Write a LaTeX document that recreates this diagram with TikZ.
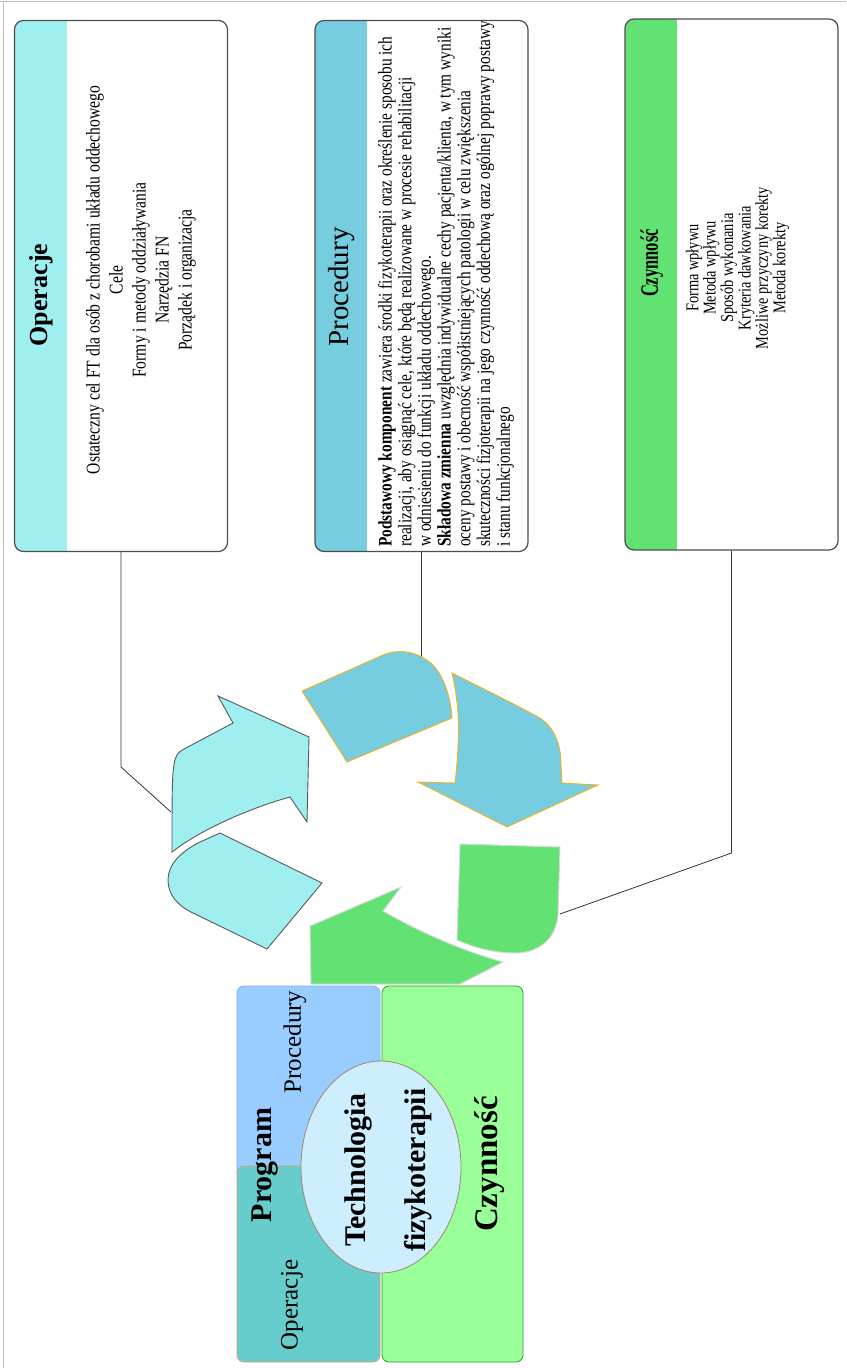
\documentclass[tikz,border=0pt]{standalone}
\usepackage{graphicx}
\usepackage{fontspec}
\setmainfont{Liberation Serif}
\newfontfamily\narrowserif[FakeStretch=0.8]{Liberation Serif}
\usetikzlibrary{shapes.geometric}

\definecolor{opcyan}{HTML}{9FEFF0}
\definecolor{prblue}{HTML}{76CDDF}
\definecolor{czgreen}{HTML}{62E272}
\definecolor{edgeorange}{HTML}{F5B21B}
\definecolor{progblue}{HTML}{99CCFF}
\definecolor{progedge}{HTML}{7FB2F0}
\definecolor{opteal}{HTML}{66CCCC}
\definecolor{opedge}{HTML}{D9A066}
\definecolor{czlight}{HTML}{99FF99}
\definecolor{czedge}{HTML}{2E9E2E}
\definecolor{ellfill}{HTML}{CCEEFF}
\definecolor{elledge}{HTML}{A08868}
\definecolor{boxline}{HTML}{4D4D4D}

\tikzset{
  infobox/.style={draw=boxline, line width=1.2pt, rounded corners=9pt, minimum width=213pt, minimum height=531pt, inner sep=0pt,
    path picture={\fill[#1, sharp corners] (path picture bounding box.north west) rectangle ([xshift=52pt]path picture bounding box.south west);}},
  uptext/.style={rotate=90, inner sep=0pt, align=center},
  conn/.style={draw=black!80, line width=0.8pt},
  cyanpiece/.style={fill=opcyan, draw=black!65, line width=0.9pt},
  bluepiece/.style={fill=prblue, draw=edgeorange, line width=0.9pt},
  greenpiece/.style={fill=czgreen, draw=black!15, line width=1pt},
  venn/.style={rounded corners=7pt, minimum width=143pt, inner sep=0pt, line width=0.8pt},
}

\begin{document}
\begin{tikzpicture}[x=1pt,y=1pt,yscale=-1,xscale=1]
\useasboundingbox (0,0) rectangle (846,1368);
%frame
\draw[black!25] (0,1) -- (846,1) (3,1) -- (3,1368);

%Shape: top boxes
\node[infobox=opcyan] (opbox) at (121,286) {};
\node[infobox=prblue] (prbox) at (421.5,286) {};
\node[infobox=czgreen] (czbox) at (731.5,284.5) {};

% Text Node
\node[uptext, font=\fontsize{26}{30}\selectfont\bfseries] (optitle) at (41,295) {Operacje};
% Text Node
\node[uptext, font=\fontsize{29}{32}\selectfont] (prtitle) at (342,287) {Procedury};
% Text Node
\node[uptext, font=\fontsize{25}{30}\selectfont\bfseries] (cztitle) at (652,263) {\scalebox{0.66}[1]{Czynność}};
% Text Node
\node[uptext, font=\narrowserif\fontsize{19.5}{23}\selectfont] (optext) at (141,280) {Ostateczny cel FT dla osób z chorobami układu oddechowego\\Cele\\Formy i metody oddziaływania\\Narzędzia FN\\Porządek i organizacja};
% Text Node
\node[uptext, align=left, anchor=west, font=\narrowserif\fontsize{19.2}{19.7}\selectfont] (prtext) at (446,547) {\textbf{Podstawowy komponent} zawiera środki fizykoterapii oraz określenie sposobu ich\\realizacji, aby osiągnąć cele, które będą realizowane w procesie rehabilitacji\\ w odniesieniu do funkcji układu oddechowego.\\\textbf{Składowa zmienna} uwzględnia indywidualne cechy pacjenta/klienta, w tym wyniki\\oceny postawy i obecność współistniejących patologii w celu zwiększenia\\skuteczności fizjoterapii na jego czynność oddechową oraz ogólnej poprawy postawy\\i stanu funkcjonalnego};
% Text Node
\node[uptext, font=\narrowserif\fontsize{18}{15}\selectfont] (cztext) at (737.5,268) {Forma wpływu\\Metoda wpływu\\Sposób wykonania\\Kryteria dawkowania\\Możliwe przyczyny korekty\\Metoda korekty};

%Straight Lines
\coordinate (opbend) at (121,767);
\coordinate (opend) at (171,812);
\coordinate (prend) at (421.5,658);
\coordinate (czbend) at (731.5,853);
\coordinate (czend) at (560,914);
\draw[conn] (opbox.south) -- (opbend) -- (opend);
\draw[conn] (prbox.south) -- (prend);
\draw[conn] (czbox.south) -- (czbend) -- (czend);

%Shape: cycle arrows
\draw[cyanpiece] (172,852) .. controls (172,800) and (172,775) .. (174,765) .. controls (175,756) and (178,752) .. (184,749) -- (233,723) -- (218,696) -- (309,737) -- (307,822) -- (290,797) .. controls (250,808) and (200,830) .. cycle;
\draw[cyanpiece] (220,833) -- (322,883) -- (267,949) -- (193,913) .. controls (178,906) and (168,895) .. (168,880) .. controls (168,865) and (180,852) .. (200,842) -- cycle;
\draw[bluepiece] (302,691) -- (383,655) .. controls (400,648) and (418,652) .. (432,664) .. controls (445,677) and (451,700) .. (452,718) -- (347,762) -- cycle;
\draw[bluepiece] (452,673) .. controls (490,692) and (520,707) .. (540,718) .. controls (555,728) and (561,745) .. (561,765) -- (562,783) -- (598,785) -- (507,827) -- (418,782) -- (455,783) .. controls (458,760) and (459,730) .. (458,713) .. controls (457,700) and (455,685) .. cycle;
\draw[greenpiece] (460,844) -- (560,847) -- (558,915) .. controls (556,938) and (540,953) .. (515,953) .. controls (495,953) and (475,948) .. (457,940) -- cycle;
\draw[greenpiece] (310,926) -- (401,887) -- (383,911) .. controls (420,932) and (460,950) .. (503,962) -- (460,984) -- (311,984) -- cycle;

%Shape: technology diagram
\node[venn, fill=progblue, draw=progedge, minimum height=194pt] (progbox) at (308.5,1083) {};
\node[venn, fill=opteal, draw=opedge, minimum height=196pt] (opbox2) at (308.5,1264) {};
\node[venn, fill=czlight, draw=czedge, minimum width=141pt, minimum height=376pt] (czbox2) at (452.5,1174) {};
\node[ellipse, fill=ellfill, draw=elledge, line width=0.8pt, minimum width=160pt, minimum height=212pt, inner sep=0pt] (techno) at (381,1167) {};

% Text Node
\node[uptext, font=\fontsize{25}{28}\selectfont] (prlabel) at (295,1042) {Procedury};
% Text Node
\node[uptext, font=\fontsize{30}{34}\selectfont\bfseries] (proglabel) at (265,1165) {Program};
% Text Node
\node[uptext, font=\fontsize{25}{28}\selectfont] (oplabel) at (292,1305) {Operacje};
% Text Node
\node[uptext, font=\fontsize{30}{60}\selectfont\bfseries] (techlabel) at (388,1170) {Technologia\\fizykoterapii};
% Text Node
\node[uptext, font=\fontsize{33}{36}\selectfont\bfseries] (czlabel) at (490,1164) {Czynność};

\end{tikzpicture}
\end{document}
